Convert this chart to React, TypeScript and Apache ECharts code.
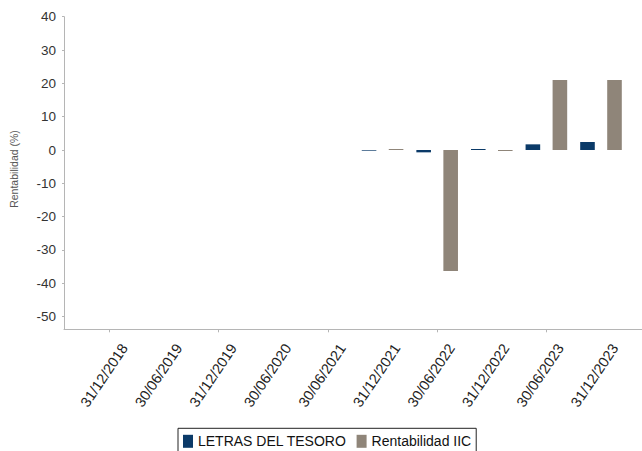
import React, { useEffect, useRef } from "react";
import * as echarts from "echarts";

const categories = [
  "31/12/2018",
  "30/06/2019",
  "31/12/2019",
  "30/06/2020",
  "30/06/2021",
  "31/12/2021",
  "30/06/2022",
  "31/12/2022",
  "30/06/2023",
  "31/12/2023",
];
const letrasDelTesoro = [null, null, null, null, null, -0.2, -0.7, 0.3, 1.7, 2.4];
const rentabilidadIIC = [null, null, null, null, null, 0.3, -36.3, -0.3, 21, 21];
const yMin = -53.8;
const yMax = 40;

const FONT = 'Arial, "Liberation Sans", sans-serif';

export default function App() {
  const ref = useRef<HTMLDivElement>(null);
  useEffect(() => {
    if (!ref.current) return;
    const chart = echarts.init(ref.current, undefined, { renderer: "svg" });
    const top = 16.7;
    const bottom = 451 - 329.3;
    const catLeft = 82.2;
    const catWidth = 546.1;
    chart.setOption({
      animation: false,
      backgroundColor: "#ffffff",
      textStyle: { fontFamily: FONT },
      grid: [
        { left: 60, right: 0, top, bottom, containLabel: false },
        { left: catLeft, width: catWidth, top, bottom, containLabel: false },
        { left: catLeft + 15, width: catWidth, top, bottom, containLabel: false },
      ],
      legend: {
        left: 178,
        top: 428.3,
        orient: "horizontal",
        borderColor: "#222",
        borderWidth: 1,
        borderRadius: 0,
        padding: [6, 5, 6, 5],
        itemWidth: 10,
        itemHeight: 13,
        itemGap: 10,
        icon: "rect",
        textStyle: { fontSize: 14, color: "#111", fontFamily: FONT },
        data: ["LETRAS DEL TESORO", "Rentabilidad IIC"],
      },
      xAxis: [
        {
          gridIndex: 0,
          type: "value",
          min: 0,
          max: 1,
          axisLine: { show: true, onZero: false, lineStyle: { color: "#b5b5b5", width: 1 } },
          axisTick: { show: false },
          axisLabel: { show: false },
          splitLine: { show: false },
        },
        {
          gridIndex: 1,
          type: "category",
          data: categories,
          axisLine: { show: false, onZero: false },
          axisTick: {
            show: true,
            alignWithLabel: true,
            length: 3,
            lineStyle: { color: "#b5b5b5" },
          },
          axisLabel: { show: false },
          splitLine: { show: false },
        },
        {
          gridIndex: 2,
          type: "category",
          data: categories,
          axisLine: { show: false, onZero: false },
          axisTick: { show: false },
          axisLabel: {
            interval: 0,
            rotate: 56,
            fontSize: 14.5,
            color: "#222",
            fontFamily: FONT,
            margin: 16,
          },
          splitLine: { show: false },
        },
      ],
      yAxis: [
        {
          gridIndex: 0,
          type: "value",
          min: yMin,
          max: yMax,
          splitNumber: 9,
          name: "Rentabilidad (%)",
          nameLocation: "middle",
          nameRotate: 90,
          nameGap: 45,
          nameTextStyle: {
            fontSize: 10.5,
            color: "#555",
            fontFamily: FONT,
            padding: [0, 0, 0, 8],
          },
          axisLine: { show: true, lineStyle: { color: "#b5b5b5", width: 1 } },
          axisTick: { show: true, length: 2, lineStyle: { color: "#b5b5b5" } },
          axisLabel: {
            showMinLabel: false,
            fontSize: 13.5,
            color: "#333",
            fontFamily: FONT,
            margin: 8,
          },
          splitLine: { show: false },
        },
        {
          gridIndex: 1,
          type: "value",
          min: yMin,
          max: yMax,
          splitNumber: 9,
          show: false,
          splitLine: { show: false },
        },
        {
          gridIndex: 2,
          type: "value",
          min: yMin,
          max: yMax,
          splitNumber: 9,
          show: false,
          splitLine: { show: false },
        },
      ],
      series: [
        {
          name: "LETRAS DEL TESORO",
          type: "bar",
          xAxisIndex: 1,
          yAxisIndex: 1,
          data: letrasDelTesoro,
          barWidth: 14.6,
          barGap: "85%",
          itemStyle: { color: "#0b3a68" },
        },
        {
          name: "Rentabilidad IIC",
          type: "bar",
          xAxisIndex: 1,
          yAxisIndex: 1,
          data: rentabilidadIIC,
          barWidth: 14.6,
          barGap: "85%",
          itemStyle: { color: "#8f8579" },
        },
      ],
    });
    return () => chart.dispose();
  }, []);
  return (
    <div
      ref={ref}
      style={{ position: "absolute", left: 0, top: 0, width: 642, height: 451 }}
    />
  );
}
